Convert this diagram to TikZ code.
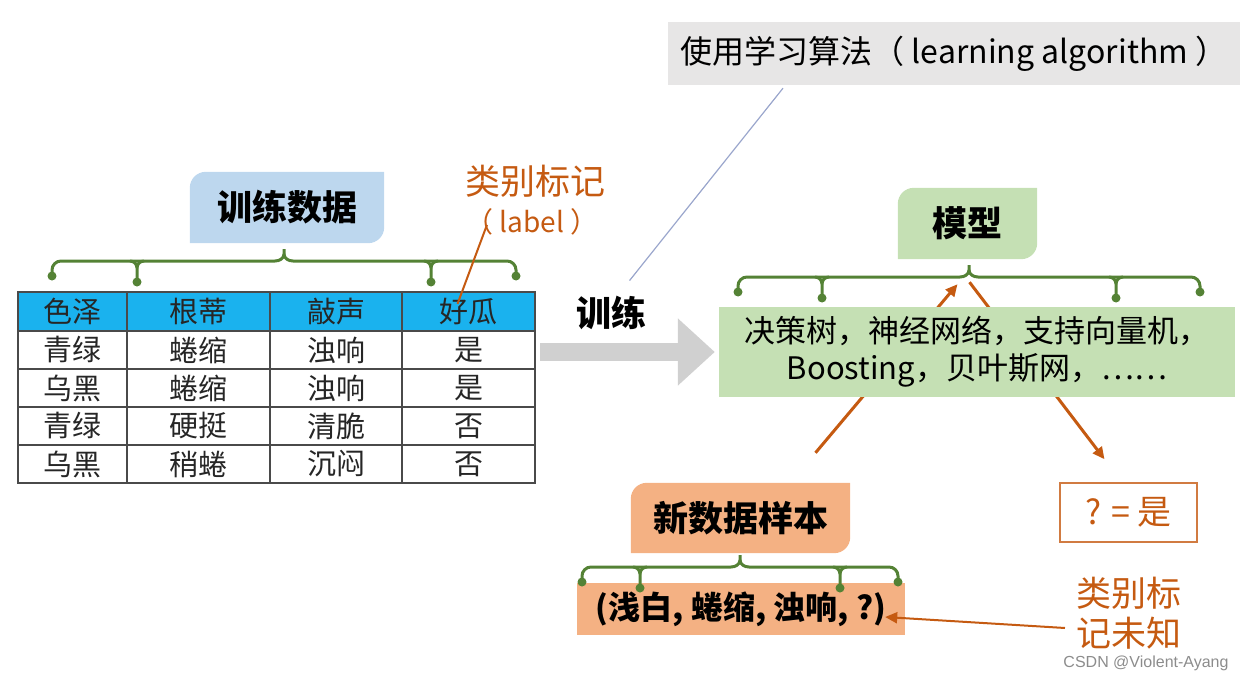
\documentclass[tikz,border=0pt]{standalone}
\usepackage{fontspec}
\setmainfont{Noto Sans CJK SC}
\newfontfamily\markfont{Liberation Sans}
\usetikzlibrary{arrows.meta,backgrounds}

\definecolor{tagblue}{HTML}{BDD7EE}
\definecolor{taggreen}{HTML}{C5E0B4}
\definecolor{tagorange}{HTML}{F4B183}
\definecolor{headblue}{HTML}{1AB2EE}
\definecolor{forkgreen}{HTML}{548235}
\definecolor{rust}{HTML}{C55A11}
\definecolor{paleback}{HTML}{E7E6E6}
\definecolor{arrowgray}{HTML}{D0D0D0}
\definecolor{slateline}{HTML}{9AA6CC}
\definecolor{gridgray}{HTML}{4A4A4A}

\tikzset{
  fork line/.style={forkgreen, line width=3pt},
  pics/fork/.style 2 args={code={
    \draw[fork line] (-#1,27) [rounded corners=9pt] -- (-#1,12) [sharp corners] -- (-9,12) to[out=0,in=-90] (0,5) -- (0,0);
    \draw[fork line] (#1,27) [rounded corners=9pt] -- (#1,12) [sharp corners] -- (9,12) to[out=180,in=-90] (0,5);
    \foreach \s in {-1,1} {
      \draw[fork line] (\s*#2-7,12) to[out=0,in=90] (\s*#2,19) -- (\s*#2,33);
      \draw[fork line] (\s*#2+7,12) to[out=180,in=90] (\s*#2,19);
      \fill[forkgreen] (\s*#2,33) circle (4.5pt);
      \fill[forkgreen] (\s*#1,27) circle (4.5pt);
    }
  }}
}

\begin{document}
\begin{tikzpicture}[x=1pt,y=-1pt,
    tag/.style={font=\fontsize{35}{40}\selectfont\bfseries, inner sep=0pt},
    cell/.style={font=\fontsize{29}{32}\selectfont, text=black!85, inner sep=0pt},
    gridline/.style={gridgray, line width=1.6pt},
    rusttext/.style={text=rust, font=\fontsize{35}{40}\selectfont},
    rustarrow/.style={rust, line width=3pt, -{Triangle[length=12pt,width=11pt]}},
    bigarrow/.style={arrowgray, line width=18pt, -{Triangle[length=37pt,width=65pt]}, shorten >=4pt}]
  \useasboundingbox (0,0) rectangle (1254,677);

  % Learning algorithm banner
  \node[fill=paleback, minimum width=572pt, minimum height=63pt, inner sep=0pt,
        font=\fontsize{32}{40}\selectfont] (algo) at (954,53.5) {使用学习算法（ learning algorithm ）};

  % Training data
  \node[tag, minimum width=194pt, minimum height=71pt] (train) at (287,207.5) {训练数据};
  \pic at (284,249) {fork={232}{147}};

  % Table
  \fill[headblue] (18,292) rectangle (535,331);
  \foreach \y in {331,369,407,445} \draw[gridline] (18,\y) -- (535,\y);
  \foreach \x in {127,270,402} \draw[gridline] (\x,292) -- (\x,483);
  \draw[gridline] (18,292) rectangle (535,483);
  \foreach \x/\t [count=\i] in {72.5/色泽, 198.5/根蒂, 336/敲声, 468.5/好瓜}
    \node[cell] (h\i) at (\x,311.5) {\t};
  \foreach \y/\a/\b/\c/\d [count=\r] in {350/青绿/蜷缩/浊响/是, 388/乌黑/蜷缩/浊响/是,
                                          426/青绿/硬挺/清脆/否, 464/乌黑/稍蜷/沉闷/否} {
    \node[cell] (r\r a) at (72.5,\y) {\a};
    \node[cell] (r\r b) at (198.5,\y) {\b};
    \node[cell] (r\r c) at (336,\y) {\c};
    \node[cell] (r\r d) at (468.5,\y) {\d};
  }

  % Class label
  \node[rusttext] (cls) at (535,181) {类别标记};
  \node[rusttext, font=\fontsize{28}{32}\selectfont] (lbl) at (532,222) {（ label ）};
  \draw[rust, line width=2pt] ([xshift=25pt,yshift=14pt]lbl.south west) -- ([xshift=-11pt,yshift=-6pt]h4.north);

  % Training step
  \node[font=\fontsize{35}{40}\selectfont\bfseries] (fit) at (611,313) {训练};
  \coordinate (tblout) at (540,352);
  \draw[slateline, line width=1.2pt] ([xshift=-171pt,yshift=-3pt]algo.south) -- ([xshift=-20pt,yshift=12pt]fit.north east);

  % Model
  \node[tag, minimum width=139pt, minimum height=71pt] (model) at (967.5,223.5) {模型};
  \node[fill=taggreen, minimum width=516pt, minimum height=90pt, inner sep=0pt, align=center,
        font=\fontsize{31}{37}\selectfont] (algos) at (977,352) {决策树，神经网络，支持向量机，\\Boosting，贝叶斯网，……};
  \pic at (969,265) {fork={231}{147}};
  \draw[bigarrow] (tblout) -- (tblout -| algos.west);

  % New sample
  \node[tag, minimum width=219pt, minimum height=70pt] (sample) at (740.5,518) {新数据样本};
  \node[fill=tagorange, minimum width=328pt, minimum height=52pt, inner sep=0pt,
        font=\fontsize{32}{36}\selectfont\bfseries] (vals) at (741,609) {(浅白, 蜷缩, 浊响, ?)};
  \pic at (740,555) {fork={158}{100}};

  % Prediction
  \node[draw=rust!80, line width=1.5pt, text=rust, minimum width=137pt, minimum height=59pt,
        font=\fontsize{34}{40}\selectfont] (answer) at (1128.5,512.5) {? = 是};
  \node[rusttext, align=center] (unknown) at (1129,613) {类别标\\记未知};
  \draw[rustarrow, line width=2pt] ([xshift=-8pt,yshift=-15pt]unknown.west) -- ([xshift=-20pt,yshift=-8pt]vals.east);

  % Tag shapes and hidden arrows
  \begin{scope}[on background layer]
    \foreach \n/\c in {train/tagblue, model/taggreen, sample/tagorange}
      \fill[\c] (\n.south west) [rounded corners=16pt] -- (\n.north west) [sharp corners]
        -- (\n.north east) [rounded corners=16pt] -- (\n.south east) [sharp corners] -- cycle;
    \draw[rustarrow] ([xshift=75pt,yshift=30pt]sample.north) -- ([xshift=-10pt,yshift=-25pt]model.south);
    \draw[rustarrow] ([xshift=2pt,yshift=-23pt]model.south) -- ([xshift=-24pt,yshift=23pt]answer.north);
  \end{scope}

  % Watermark
  \node[text=black!45, font=\markfont\fontsize{16}{18}\selectfont] (mark) at (1146,663) {CSDN @Violent-Ayang};
\end{tikzpicture}
\end{document}
